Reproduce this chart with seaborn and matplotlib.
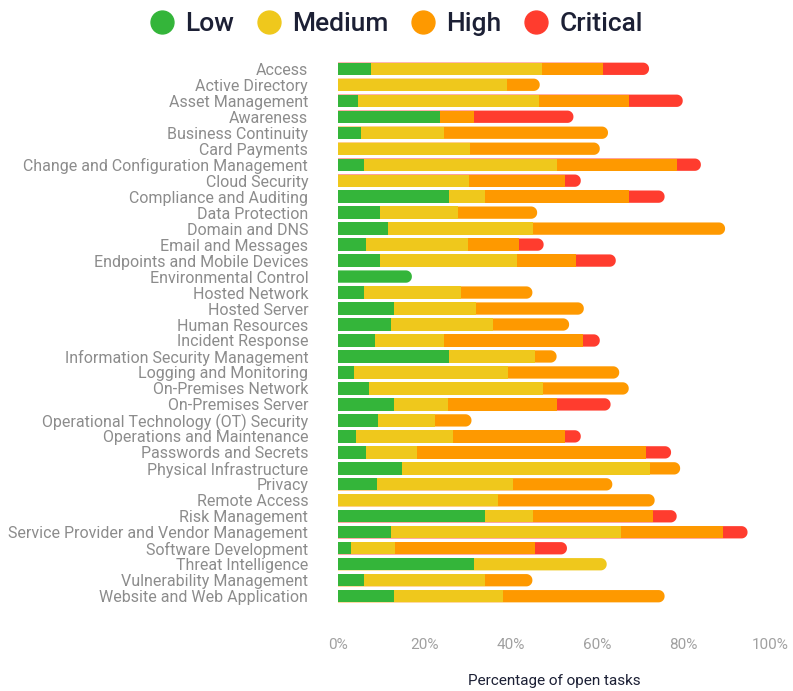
import numpy as np
import pandas as pd
import matplotlib
matplotlib.use("Agg")
import matplotlib.pyplot as plt
import seaborn as sns
from matplotlib.path import Path
from matplotlib.patches import PathPatch
from matplotlib.lines import Line2D

categories = [
    "Access", "Active Directory", "Asset Management", "Awareness",
    "Business Continuity", "Card Payments", "Change and Configuration Management",
    "Cloud Security", "Compliance and Auditing", "Data Protection", "Domain and DNS",
    "Email and Messages", "Endpoints and Mobile Devices", "Environmental Control",
    "Hosted Network", "Hosted Server", "Human Resources", "Incident Response",
    "Information Security Management", "Logging and Monitoring", "On-Premises Network",
    "On-Premises Server", "Operational Technology (OT) Security",
    "Operations and Maintenance", "Passwords and Secrets", "Physical Infrastructure",
    "Privacy", "Remote Access", "Risk Management",
    "Service Provider and Vendor Management", "Software Development",
    "Threat Intelligence", "Vulnerability Management", "Website and Web Application",
]
low = [7.6, 0, 4.6, 23.6, 5.3, 0, 6.0, 0, 25.7, 9.7, 11.6,
       6.5, 9.7, 17.1, 6.0, 13.0, 12.3, 8.6, 25.7, 3.7, 7.2,
       13.0, 9.3, 4.2, 6.5, 14.8, 9.0, 0, 34.0, 12.3, 3.0,
       31.5, 6.0, 13.0]
medium = [39.6, 39.1, 41.9, 0, 19.2, 30.6, 44.7, 30.3, 8.3, 18.1, 33.5,
          23.6, 31.7, 0, 22.5, 18.9, 23.6, 15.9, 19.9, 35.7, 40.3,
          12.5, 13.2, 22.4, 11.8, 57.4, 31.5, 37.0, 11.1, 53.2, 10.2,
          30.7, 28.0, 25.2]
high = [14.1, 7.6, 20.9, 7.9, 38.0, 30.0, 27.8, 22.2, 33.4, 18.3, 44.5,
        11.8, 13.7, 0, 16.5, 25.0, 17.6, 32.2, 5.0, 25.7, 19.8,
        25.2, 8.4, 25.9, 53.0, 7.0, 23.0, 36.3, 27.8, 23.6, 32.4,
        0, 11.0, 37.4]
critical = [10.7, 0, 12.4, 23.0, 0, 0, 5.5, 3.7, 8.2, 0, 0,
            5.7, 9.2, 0, 0, 0, 0, 3.9, 0, 0, 0,
            12.4, 0, 3.7, 5.8, 0, 0, 0, 5.5, 5.7, 7.4,
            0, 0, 0]
levels = ["Low", "Medium", "High", "Critical"]
colors = ["#34b53a", "#efc81c", "#fe9900", "#ff3c2e"]

df = pd.DataFrame({"category": categories, "Low": low, "Medium": medium,
                   "High": high, "Critical": critical})
cum = df[levels].cumsum(axis=1)
total = cum["Critical"].values

sns.set_theme(style="white")
plt.rcParams["font.family"] = ["Roboto", "DejaVu Sans"]

W, H = 793, 691
fig = plt.figure(figsize=(W / 100, H / 100), dpi=100)
ax = fig.add_axes([338 / W, 1 - 604.2 / H, (770 - 338) / W, (604.2 - 60.8) / H])

groups = []
for k in range(3, -1, -1):
    n0 = len(ax.patches)
    plot_df = pd.DataFrame({"category": categories, "value": cum[levels[k]].values})
    sns.barplot(data=plot_df, x="value", y="category", orient="h", color=colors[k],
                saturation=1, width=0.77, ax=ax, linewidth=0)
    groups.append((k, ax.patches[n0:]))

ax.set_xlim(0, 100)
ax.set_ylim(len(categories) - 0.5, -0.5)
fig.canvas.draw()

p0 = ax.transData.transform((0, 0))
p1 = ax.transData.transform((1, 1))
ppx = abs(p1[0] - p0[0])
ppy = abs(p1[1] - p0[1])
r_px = 6.0

vals = df[levels].values
for k, patches in groups:
    z = 2 + (3 - k) * 0.1
    for i, p in enumerate(patches):
        p.set_zorder(z)
        if vals[i, k] <= 0:
            p.set_visible(False)
            continue
        if abs(cum[levels[k]].values[i] - total[i]) < 1e-9:
            x0, y0 = p.get_x(), p.get_y()
            w, h = p.get_width(), p.get_height()
            x1 = x0 + w
            ya, yb = min(y0, y0 + h), max(y0, y0 + h)
            rx = min(r_px / ppx, w)
            ry = min(r_px / ppy, (yb - ya) / 2)
            t1 = np.linspace(-np.pi / 2, 0, 12)
            t2 = np.linspace(0, np.pi / 2, 12)
            pts = [(x0, ya)]
            pts += [(x1 - rx + rx * np.cos(t), ya + ry + ry * np.sin(t)) for t in t1]
            pts += [(x1 - rx + rx * np.cos(t), yb - ry + ry * np.sin(t)) for t in t2]
            pts += [(x0, yb), (x0, ya)]
            codes = [Path.MOVETO] + [Path.LINETO] * (len(pts) - 2) + [Path.CLOSEPOLY]
            pp = PathPatch(Path(pts, codes), facecolor=p.get_facecolor(),
                           edgecolor="none", linewidth=0, zorder=z)
            p.set_visible(False)
            ax.add_patch(pp)

for s in ax.spines.values():
    s.set_visible(False)
ax.grid(False)
ax.set_ylabel("")
ax.set_xticks([0, 20, 40, 60, 80, 100])
ax.set_xticklabels(["0%", "20%", "40%", "60%", "80%", "100%"])
ax.tick_params(axis="x", length=0, pad=24, labelsize=11, labelcolor="#a0a0a0")
ax.tick_params(axis="y", length=0, pad=21.5, labelsize=11.5, labelcolor="#8c8c8c")
ax.set_xlabel("Percentage of open tasks", fontsize=11, color="#1c2035")
ax.xaxis.set_label_coords(0.5, -0.128)

handles = [Line2D([], [], marker="o", linestyle="", markersize=16.5,
                  markerfacecolor=c, markeredgecolor=c) for c in colors]
fig.legend(handles, levels, loc="center", bbox_to_anchor=(0.5, 1 - 24 / H),
           ncol=4, frameon=False, handlelength=0.9, handletextpad=0.44,
           columnspacing=0.85, prop={"family": "Roboto", "size": 19, "weight": "medium"},
           labelcolor="#1c2035")

fig.savefig("out.png", dpi=100)
